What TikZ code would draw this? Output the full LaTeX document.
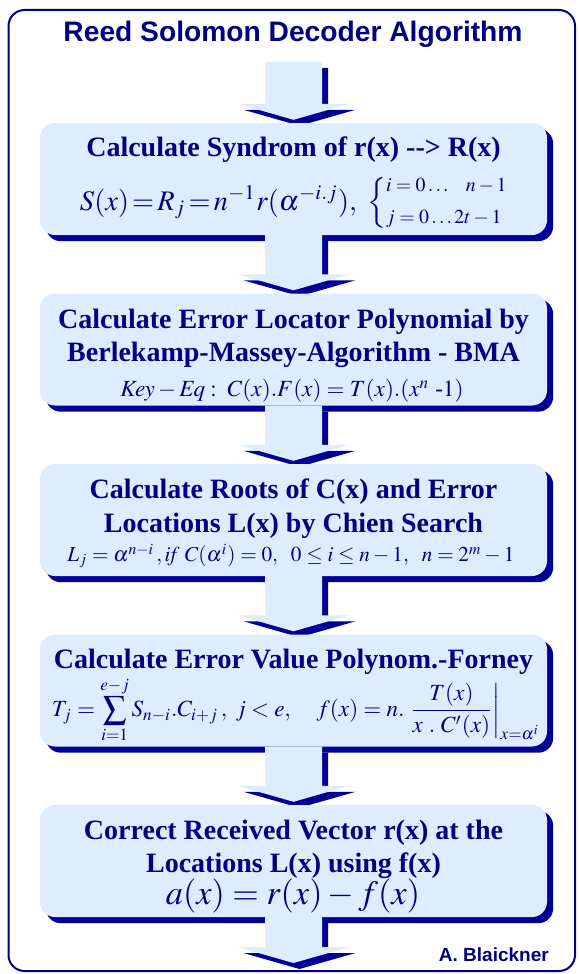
\documentclass[tikz,border=0pt]{standalone}
\usepackage{mathptmx}
\usepackage[no-math]{fontspec}
\setmainfont{Liberation Serif}
\newfontfamily\sansbold{Liberation Sans}
\usepackage{graphicx}
\usetikzlibrary{calc}
\definecolor{navyshadow}{RGB}{0,0,150}
\definecolor{navytext}{RGB}{0,0,128}
\definecolor{framec}{RGB}{0,0,140}
\definecolor{lightb}{RGB}{221,237,255}
\pgfdeclarelayer{bg}
\pgfsetlayers{bg,main}
\tikzset{
  stepbox/.style={fill=lightb, rounded corners=15pt, minimum width=507pt, minimum height=112pt, inner sep=0pt},
  boxshadow/.style={fill=navyshadow, rounded corners=15pt},
  boxtitle/.style={inner sep=0pt, anchor=base, text=navytext, font={\bfseries\fontsize{28}{33}\selectfont}},
  formula/.style={inner sep=0pt, anchor=center, text=navytext},
  sanslabel/.style={inner sep=0pt, text=navytext},
}
\newcommand{\arrowshadow}[2]{%
  \path[fill=navyshadow] let \p1=(#1), \p2=(#2) in
    (\x2-22.5pt,\y1-6pt) -- (\x2+34.5pt,\y1-6pt) -- (\x2+34.5pt,\y2+10pt) -- (\x2+62pt,\y2+10pt)
    -- (\x2+6pt,\y2-6pt) -- (\x2-50pt,\y2+10pt) -- (\x2-22.5pt,\y2+10pt) -- cycle;}
\newcommand{\arrowbody}[2]{%
  \path[fill=lightb] let \p1=(#1), \p2=(#2) in
    (\x2-28.5pt,\y1) -- (\x2+28.5pt,\y1) -- (\x2+28.5pt,\y2+16pt) -- (\x2+56pt,\y2+16pt)
    -- (\x2,\y2) -- (\x2-56pt,\y2+16pt) -- (\x2-28.5pt,\y2+16pt) -- cycle;}
\begin{document}
\begin{tikzpicture}[x=1pt,y=-1pt]
\useasboundingbox (0,0) rectangle (578,974);
\draw[framec, line width=2pt, rounded corners=16pt] (8.5,10) rectangle (575,971);
\node[sanslabel, anchor=base, font={\sansbold\bfseries\fontsize{28.2}{32}\selectfont}] (title) at (293,42) {Reed Solomon Decoder Algorithm};

\node[stepbox] (b1) at (293.5,179) {};
\node[stepbox] (b2) at (293.5,349.5) {};
\node[stepbox] (b3) at (293.5,520) {};
\node[stepbox] (b4) at (293.5,690.5) {};
\node[stepbox] (b5) at (293.5,861) {};

\coordinate (s0) at (293.5,62);
\coordinate (t1) at ($(b1.north)+(0,-3)$);
\coordinate (t2) at ($(b2.north)+(0,-3)$);
\coordinate (t3) at ($(b3.north)+(0,-3)$);
\coordinate (t4) at ($(b4.north)+(0,-3)$);
\coordinate (t5) at ($(b5.north)+(0,-3)$);
\coordinate (t6) at (293.5,963);

\begin{pgfonlayer}{bg}
  \foreach \b in {b1,b2,b3,b4,b5}{\fill[boxshadow] ($(\b.south west)+(6,6)$) rectangle ($(\b.north east)+(6,6)$);}
  \arrowshadow{s0}{t1}
  \arrowshadow{b1.south}{t2}
  \arrowshadow{b2.south}{t3}
  \arrowshadow{b3.south}{t4}
  \arrowshadow{b4.south}{t5}
  \arrowshadow{b5.south}{t6}
\end{pgfonlayer}
\arrowbody{s0}{t1}
\arrowbody{b1.south}{t2}
\arrowbody{b2.south}{t3}
\arrowbody{b3.south}{t4}
\arrowbody{b4.south}{t5}
\arrowbody{b5.south}{t6}

% box 1
\node[boxtitle] (h1) at (293.5,156) {Calculate Syndrom of r(x) -{}-> R(x)};
\node[formula] (f1) at (295,203) {\resizebox{430pt}{!}{$S(x)\!=\!R_j\!=\!n^{-1}r(\alpha^{-i.j}),\ \left\{\vcenter{\hbox{\scalebox{0.7}{$\begin{array}{@{}l@{}} i=0\ldots\ \ \ n-1\\[4pt] j=0\ldots 2t-1\end{array}$}}}\right.$}};
% box 2
\node[boxtitle] (h2a) at (293.5,328) {Calculate Error Locator Polynomial by};
\node[boxtitle] (h2b) at (293.5,361) {Berlekamp-Massey-Algorithm - BMA};
\node[formula] (f2) at (292,391) {\resizebox{343pt}{!}{$\mathit{Key}-\mathit{Eq}:\ C(x).F(x)=T(x).(x^{n}\ \mbox{-}1)$}};
% box 3
\node[boxtitle] (h3a) at (293.5,498) {Calculate Roots of C(x) and Error};
\node[boxtitle] (h3b) at (293.5,532) {Locations L(x) by Chien Search};
\node[formula] (f3) at (291,556) {\resizebox{447pt}{!}{$L_j=\alpha^{n-i}\,,\mathit{if}\ C(\alpha^i)=0,\ \ 0\le i\le n-1,\ \ n=2^m-1$}};
% box 4
\node[boxtitle] (h4) at (293.5,668) {Calculate Error Value Polynom.-Forney};
\node[formula] (f4) at (296,710) {\resizebox{488pt}{!}{$\displaystyle T_j=\sum_{i=1}^{e-j}S_{n-i}.C_{i+j}\,,\ j<e,\quad f(x)=n.\left.\frac{T(x)}{x\ .\ C'(x)}\right|_{x=\alpha^i}$}};
% box 5
\node[boxtitle] (h5a) at (293.5,839) {Correct Received Vector r(x) at the};
\node[boxtitle] (h5b) at (293.5,872) {Locations L(x) using f(x)};
\node[formula] (f5) at (293,896) {\resizebox{254pt}{!}{$a(x)=r(x)-f(x)$}};

\node[sanslabel, anchor=base east, font={\sansbold\bfseries\fontsize{19}{22}\selectfont}] (author) at (549,961) {A. Blaickner};
\end{tikzpicture}
\end{document}
